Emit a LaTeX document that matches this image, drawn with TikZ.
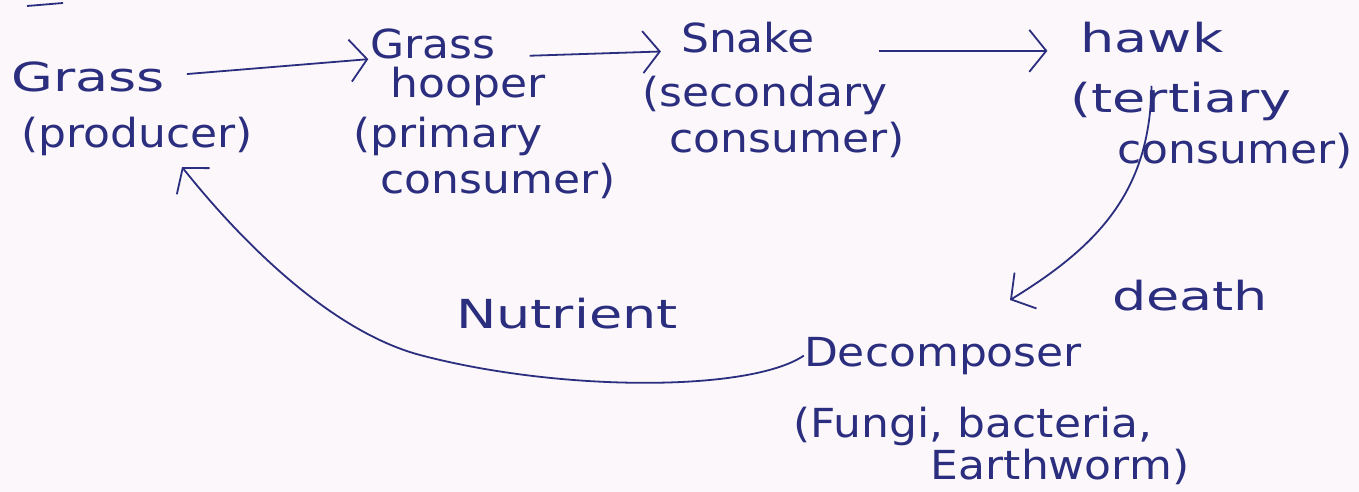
\documentclass[tikz,border=0pt]{standalone}
\usepackage{fontspec}
\usepackage{tikz}
\usetikzlibrary{arrows.meta}
\newfontfamily\handfont[FakeStretch=1.1]{DejaVu Sans}
\newfontfamily\widehand[FakeStretch=1.35]{DejaVu Sans}
\definecolor{ink}{HTML}{2B2E7E}
\definecolor{paper}{HTML}{FBF7FA}
\begin{document}
\begin{tikzpicture}[x=1pt,y=-1pt,
	lbl/.style={anchor=base,inner sep=0pt,text=ink,font=\handfont\fontsize{40}{44}\selectfont},
	widelbl/.style={lbl,font=\widehand\fontsize{40}{44}\selectfont},
	arr/.style={draw=ink,line width=1.8pt,-{Straight Barb[length=17pt,width=42pt]}}]
	% Define the page
	\fill[paper] (0,0) rectangle (1359,492);
	\useasboundingbox (0,0) rectangle (1359,492);
	\draw[ink,line width=1.8pt] (27,6) -- (63,3);
	% Add the food chain
	\node[widelbl] (grass) at (88,92) {Grass};
	\node[lbl] (producer) at (137,147) {(producer)};
	\node[lbl] (hopper) at (433,59) {Grass};
	\node[lbl] (hooper) at (468,98) {hooper};
	\node[lbl] (primary) at (448,147) {(primary};
	\node[lbl] (primarycons) at (498,193) {consumer)};
	\node[lbl] (snake) at (748,53) {Snake};
	\node[lbl] (secondary) at (765,107) {(secondary};
	\node[lbl] (secondarycons) at (787,153) {consumer)};
	\node[widelbl] (hawk) at (1152,53) {hawk};
	\node[widelbl] (tertiary) at (1181,113) {(tertiary};
	\node[lbl] (tertiarycons) at (1235,163) {consumer)};
	% Add the decomposers
	\node[lbl] (decomp) at (943,366) {Decomposer};
	\node[lbl] (fungi) at (973,437) {(Fungi, bacteria,};
	\node[lbl] (earthworm) at (1060,479) {Earthworm)};
	\node[widelbl] (nutrient) at (567,328) {Nutrient};
	\node[widelbl] (death) at (1190,310) {death};
	\coordinate (deathend) at (1010,300);
	\coordinate (nutrend) at (182,167);
	% Create Arrows
	\draw[arr,shorten <=22pt,shorten >=2pt] ([yshift=14pt]grass.mid east) -- (hopper.base west);
	\draw[arr,shorten <=34pt,shorten >=20pt] (hopper.mid east) -- (snake.mid west);
	\draw[arr,shorten <=64pt,shorten >=33pt] (snake.mid east) -- (hawk.mid west);
	\draw[arr,shorten <=32pt] (hawk.south) .. controls (1150,190) and (1100,245) .. (deathend);
	\draw[arr] (decomp.west) .. controls (750,392) and (560,392) .. (420,355)
		.. controls (330,331) and (240,240) .. (nutrend);
\end{tikzpicture}
\end{document}
